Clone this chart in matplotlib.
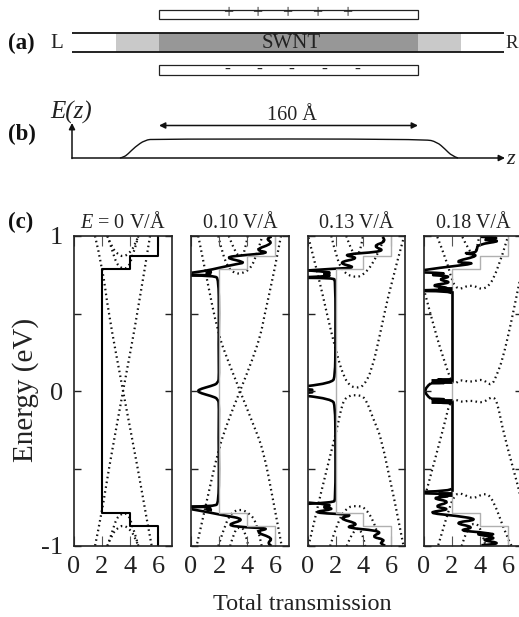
import matplotlib
matplotlib.use("Agg")
import matplotlib.pyplot as plt
from matplotlib.patches import Rectangle, PathPatch
from matplotlib.path import Path

plt.rcParams['font.family'] = ['Liberation Serif', 'DejaVu Serif']
plt.rcParams['mathtext.fontset'] = 'custom'
plt.rcParams['mathtext.rm'] = 'Liberation Serif'
plt.rcParams['mathtext.it'] = 'Liberation Serif:italic'

W, H = 519, 617
titles = [r'$\mathit{E}$ = 0 V/Å', '0.10 V/Å', '0.13 V/Å', '0.18 V/Å']
x_ticks = [0, 2, 4, 6]
y_ticks = [-1, -0.5, 0, 0.5, 1]
y_tick_labels = ['-1', '', '0', '', '1']
panel_left_px = [74, 191, 307.5, 424]

# ideal step transmission (x, E)
step = [(6, 1), (6, .87), (4, .87), (4, .79), (2, .79), (2, -.79), (4, -.79), (4, -.87), (6, -.87), (6, -1)]

# dotted band structure per panel
bands0 = [
    [(1.5, 1), (2.05, .79), (2.43, .52), (3.5, 0), (4.6, -.52), (5.2, -.83), (5.55, -1)],
    [(5.43, 1), (4.58, .52), (3.5, 0), (2.45, -.52), (1.98, -.79), (1.5, -1)],
    [(2.37, 1), (2.75, .92), (3.1, .885), (3.5, .865), (3.9, .885), (4.3, .93), (4.6, 1)],
    [(2.4, 1), (2.75, .9), (3.05, .82), (3.4, .79), (3.8, .79), (4.1, .84), (4.6, 1)],
    [(2.37, -1), (2.75, -.92), (3.1, -.885), (3.5, -.865), (3.9, -.885), (4.3, -.93), (4.6, -1)],
    [(2.4, -1), (2.75, -.9), (3.05, -.82), (3.4, -.79), (3.8, -.79), (4.1, -.84), (4.6, -1)],
]
bands1 = [
    [(.52, 1), (1.07, .75), (1.93, .37), (2.62, .2), (3.5, 0), (4.38, -.2), (5.17, -.38), (5.9, -.72), (6.48, -1)],
    [(6.43, 1), (5.9, .75), (5.2, .47), (5.0, .37), (4.38, .2), (3.5, 0), (2.62, -.2), (1.95, -.38), (1.1, -.72), (.4, -1)],
    [(1.95, 1), (2.26, .88), (2.7, .79), (3.1, .762), (3.57, .755), (4.3, .79), (4.76, .9), (5.1, 1)],
    [(2.7, 1), (3.2, .88), (3.6, .87), (3.85, .9), (4.05, 1)],
    [(1.95, -1), (2.3, -.9), (2.8, -.79), (3.5, -.76), (4.2, -.79), (4.7, -.85), (5.05, -1)],
    [(2.8, -1), (3.1, -.9), (3.5, -.875), (3.85, -.9), (4.1, -1)],
]
bands2 = [
    [(.07, .99), (.79, .738), (1.38, .5), (1.98, .275), (2.57, .092), (3.05, .032), (3.5, .02), (4, .03), (4.6, .135), (5.19, .37), (5.9, .67), (6.86, .985)],
    [(.07, -1), (1.1, -.6), (2.1, -.25), (2.5, -.07), (2.93, -.03), (3.5, -.026), (4.1, -.036), (4.7, -.18), (5.43, -.34), (6.86, -1)],
    [(1.7, 1), (2.1, .85), (2.55, .77), (3.2, .735), (3.95, .74), (4.9, .85), (5.5, .99)],
    [(2.77, 1), (3.0, .94), (3.3, .885), (3.65, .88), (3.85, .94), (3.96, 1)],
    [(1.62, -1), (2.1, -.855), (2.8, -.75), (3.5, -.74), (4.1, -.75), (4.83, -.855), (5.3, -1)],
    [(2.8, -1), (3.29, -.89), (3.88, -.89), (4.12, -1)],
]
bands3 = [
    [(.95, .994), (1.67, .83), (2.02, .70), (2.5, .65), (3.33, .69), (4.4, .643), (5.24, .768), (5.95, .983)],
    [(2.74, .994), (3.2, .907), (3.55, .88), (3.8, .92), (3.93, .994)],
    [(.07, .63), (.8, .38), (1.43, .2), (1.79, .103), (1.95, .07), (2.14, .04), (2.62, .075), (3.33, .054), (4.17, .08), (4.83, .028), (5.24, .114), (5.6, .2), (6.2, .43), (6.74, .67), (7, .78)],
    [(.19, -.64), (1.0, -.37), (1.55, -.18), (1.79, -.09), (2.14, -.047), (2.62, -.075), (3.33, -.058), (4.17, -.08), (4.88, -.032), (5.24, -.07), (5.67, -.27), (6.74, -.62), (7, -.72)],
    [(1.02, -.994), (1.62, -.81), (2.1, -.68), (2.57, -.654), (3.52, -.70), (4.36, -.654), (4.95, -.70), (5.9, -.94), (6.26, -1)],
    [(2.69, -1), (3.1, -.88), (3.6, -.85), (4.05, -.88), (4.4, -1)],
]

# computed transmission (x, E) per panel
trans1 = [
    [(5.76, .996), (5.3, .983), (5.9, .953), (4.5, .91), (5.7, .892), (3.86, .877), (2.3, .862), (3.95, .83), (3.26, .819), (2.07, .796), (1.0, .774), (.05, .763)],
    [(0, .75), (1.6, .745), (.9, .752), (1.6, .758), (.9, .765), (1.5, .77)],
    [(0, .745), (1.7, .745), (1.97, .72), (2.0, .5), (1.97, .3), (2.0, .1), (1.95, .05), (1.43, .032), (.7, .014), (.45, 0), (.7, -.014), (1.43, -.032), (1.95, -.05), (2.0, -.1), (1.97, -.3), (2.0, -.5), (1.97, -.72), (1.7, -.745), (0, -.745)],
    [(.05, -.763), (1.0, -.778), (2.2, -.80), (3.95, -.828), (2.45, -.865), (3.86, -.88), (5.7, -.886), (4.5, -.908), (5.9, -.95), (5.4, -.983), (5.76, -1)],
    [(0, -.75), (1.6, -.745), (.9, -.752), (1.6, -.758), (.9, -.765), (1.5, -.77)],
]
trans2 = [
    [(.04, .778), (1.82, .789), (3.6, .796), (2.05, .828), (3.8, .858), (2.3, .88), (5.7, .901), (4.6, .935), (5.7, .966), (5.35, .994)],
    [(.04, .778), (2.1, .765), (.8, .755), (2.1, .742), (.04, .735)],
    [(0, .73), (1.85, .73), (2.0, .71), (2.0, .3), (1.97, .1), (1.77, .05), (0, .032)],
    [(0, .011), (.9, .006), (0, .002)],
    [(0, -.011), (.9, -.006), (0, -.002)],
    [(0, -.032), (1.77, -.05), (1.97, -.1), (2.0, -.3), (2.0, -.7), (1.85, -.72), (0, -.728)],
    [(.07, -.72), (2.1, -.735), (.8, -.75), (2.1, -.76), (.07, -.785), (3.5, -.798), (2.1, -.82), (3.8, -.86), (2.5, -.88), (5.5, -.905), (4.5, -.94), (5.6, -.96), (5.1, -.983), (5.55, -.998)],
]
trans3 = [
    [(4.0, .995), (5.8, .99), (3.8, .975), (5.7, .97), (3.8, .945), (3.8, .91), (3.6, .89), (2.7, .89), (4.1, .875), (1.9, .83), (4.0, .825), (1.07, .795), (0, .78)],
    [(0, .765), (2.1, .76), (0, .75), (2.1, .74), (.9, .72), (2.1, .7), (.3, .68), (2.0, .665), (.7, .655), (2.1, .655), (0, .65)],
    [(0, .645), (1.95, .645), (1.98, .63)],
    [(1.95, .075), (.5, .075), (1.95, .065), (.3, .06), (1.95, .05), (.5, .05)],
    [(.5, .05), (.1, .025), (.1, -.025), (.5, -.05)],
    [(.5, -.05), (1.95, -.052), (.3, -.06), (1.95, -.066), (.5, -.075), (1.95, -.078)],
    [(1.98, -.63), (1.95, -.645), (0, -.65)],
    [(0, -.66), (2.1, -.665), (.8, -.67), (2.1, -.678), (.4, -.69), (2.0, -.715), (.6, -.745), (2.0, -.763), (.07, -.785), (2.33, -.805), (4.0, -.83), (2.0, -.85), (3.7, -.88), (2.4, -.90), (4.0, -.91), (5.4, -.93), (3.2, -.915), (5.4, -.95), (3.9, -.96), (5.8, -.985), (4.1, -.995)],
]
# straight plateau of the transmission at T = 2, panel 0.18 V/Å
plateau3 = [[(2, .64), (2, .07)], [(2, -.07), (2, -.64)]]
# energy windows where the resonances merge into a solid band
merged3 = [[(.5, .062), (2, .062)], [(.5, -.062), (2, -.062)], [(1.0, .66), (2, .66)], [(1.0, -.665), (2, -.665)]]
bold_panels = [[step], trans1, trans2, trans3]
band_panels = [bands0, bands1, bands2, bands3]

# schematic: (a) device and (b) field profile, in figure pixels
rail_x = [72, 504]
rail_y = [32.5, 52]
contact_x = [116, 461]
gate_x = [159, 418]
plate_y = [(9.5, 19), (65, 75)]
plus_x = [228, 257, 287.5, 317, 347]
minus_x = [227, 259, 291, 324, 357]
field_x = [120, 124, 128, 135, 145, 155, 425, 437, 445, 452, 458]
field_y = [158, 157, 154, 147, 140, 139, 139, 142, 149, 156, 158]


def smooth(seg):
    """Quadratic curve through the read points, as a path for the axes."""
    verts = [seg[0]]
    codes = [Path.MOVETO]
    for k in range(1, len(seg) - 1):
        p, q = seg[k], seg[k + 1]
        end = q if k == len(seg) - 2 else ((p[0] + q[0]) / 2, (p[1] + q[1]) / 2)
        verts += [p, end]
        codes += [Path.CURVE3, Path.CURVE3]
    return Path(verts, codes)


fig = plt.figure(figsize=(W / 100, H / 100), dpi=100)
bg = fig.add_axes([0, 0, 1, 1])
bg.set_xlim(0, W)
bg.set_ylim(H, 0)
bg.axis('off')

bg.add_patch(Rectangle((contact_x[0], rail_y[0]), contact_x[1] - contact_x[0], rail_y[1] - rail_y[0], fc='#c9c9c9', ec='none'))
bg.add_patch(Rectangle((gate_x[0], rail_y[0]), gate_x[1] - gate_x[0], rail_y[1] - rail_y[0], fc='#979797', ec='none'))
for y in rail_y:
    bg.plot(rail_x, [y, y], color='#111', lw=1.3, solid_capstyle='butt')
for y0, y1 in plate_y:
    bg.add_patch(Rectangle((gate_x[0], y0), gate_x[1] - gate_x[0], y1 - y0, fc='white', ec='#222', lw=0.9))
txt = dict(ha='center', va='center', color='#222')
for x in plus_x:
    bg.text(x, 14, '+', fontsize=13, **txt)
for x in minus_x:
    bg.text(x, 69.5, '-', fontsize=13, **txt)
bg.text(291, 43, 'SWNT', fontsize=15, **txt)
bg.text(57, 43, 'L', fontsize=15, **txt)
bg.text(518, 43, 'R', fontsize=13.5, ha='right', va='center', color='#222')
for label, y in [('(a)', 43), ('(b)', 134), ('(c)', 222)]:
    bg.text(8, y, label, fontsize=16.5, fontweight='bold', ha='left', va='center', color='#111')
bg.text(50, 112, 'E(z)', fontsize=18, style='italic', ha='left', va='center', color='#222')
bg.text(292, 116, '160 Å', fontsize=14.5, **txt)
bg.text(511, 159, 'z', fontsize=16, style='italic', **txt)
arrow = dict(arrowstyle='-|>', color='#111', lw=1.1, mutation_scale=9, shrinkA=0, shrinkB=0)
bg.annotate('', xy=(72, 123), xytext=(72, 158.5), arrowprops=arrow)
bg.annotate('', xy=(505, 158), xytext=(72, 158), arrowprops=arrow)
bg.annotate('', xy=(159, 125.5), xytext=(418, 125.5),
            arrowprops=dict(arrowstyle='<|-|>', color='#111', lw=1.1, mutation_scale=9, shrinkA=0, shrinkB=0))
bg.add_patch(PathPatch(smooth(list(zip(field_x, field_y))), fc='none', ec='#111', lw=1.0))

bg.text(26, 390, 'Energy (eV)', fontsize=21, rotation=90, **txt)
bg.text(302, 604, 'Total transmission', fontsize=17.5, **txt)

top, bottom, width = 236, 546, 98
for i, left in enumerate(panel_left_px):
    ax = fig.add_axes([left / W, 1 - bottom / H, width / W, (bottom - top) / H])
    ax.set_xlim(0, 7)
    ax.set_ylim(-1, 1)
    ax.set_xticks(x_ticks)
    ax.set_yticks(y_ticks)
    ax.set_xticklabels([str(t) for t in x_ticks], fontsize=19, color='#222')
    ax.set_yticklabels(y_tick_labels if i == 0 else [''] * 5, fontsize=19, color='#222')
    ax.tick_params(axis='x', direction='in', top=True, length=7.5, width=0.8, color='#555', pad=7)
    ax.tick_params(axis='y', direction='in', right=True, length=5, width=1, color='#222', pad=8)
    for s in ax.spines.values():
        s.set_linewidth(1.2)
        s.set_color('#222')
    ax.set_title(titles[i], fontsize=14.5, pad=5.5, color='#222')
    if i > 0:
        ax.plot(*zip(*step), color='#b0b0b0', lw=1.0)
    for seg in band_panels[i]:
        ax.add_patch(PathPatch(smooth(seg), fc='none', ec='#111', lw=1.6, ls=(0, (0.7, 1.5)), capstyle='butt'))
    for seg in bold_panels[i]:
        if i == 0:
            ax.plot(*zip(*seg), color='black', lw=1.5)
        else:
            ax.add_patch(PathPatch(smooth(seg), fc='none', ec='black', lw=1.9, joinstyle='round'))
    if i == 3:
        for seg in plateau3:
            ax.plot(*zip(*seg), color='black', lw=1.9)
        for seg in merged3:
            ax.plot(*zip(*seg), color='black', lw=3.5, solid_capstyle='butt')

fig.savefig('out.png', dpi=100)
